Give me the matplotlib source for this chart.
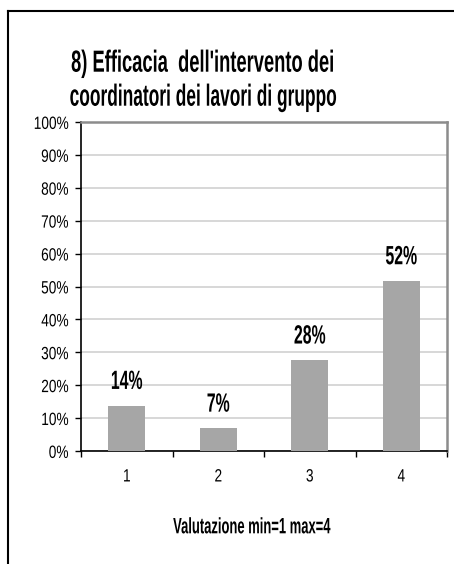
import numpy as np
import matplotlib
matplotlib.use("Agg")
import matplotlib.pyplot as plt
from matplotlib.lines import Line2D
from matplotlib.ticker import FixedLocator
from matplotlib.patheffects import AbstractPathEffect
from matplotlib.transforms import Affine2D

plt.rcParams['font.family'] = ['Liberation Sans', 'DejaVu Sans']

# data
categories = ['1', '2', '3', '4']
values = [13.8, 6.9, 27.6, 51.7]
value_labels = ['14%', '7%', '28%', '52%']
y_ticks = list(range(0, 101, 10))
title_lines = ["8) Efficacia  dell'intervento dei", "coordinatori dei lavori di gruppo"]
x_title = "Valutazione min=1 max=4"


class Stretch(AbstractPathEffect):
    """make the glyphs taller (the original uses a narrow, tall font)"""

    def __init__(self, sy, anchor='baseline'):
        super().__init__()
        self.sy = sy
        self.anchor = anchor

    def draw_path(self, renderer, gc, tpath, affine, rgbFace=None):
        if self.anchor == 'baseline':
            y0 = affine.transform([[0, 0]])[0][1]
        else:
            ext = tpath.get_extents(affine)
            y0 = (ext.y0 + ext.y1) / 2
        st = Affine2D().translate(0, -y0).scale(1, self.sy).translate(0, y0)
        renderer.draw_path(gc, tpath, affine + st, rgbFace)


W, H = 454, 564
fig = plt.figure(figsize=(W / 100, H / 100), dpi=100)
fig.patch.set_facecolor('white')

# outer frame (top and left only visible)
fig.add_artist(Line2D([8 / W, 1], [1 - 10.5 / H, 1 - 10.5 / H], color='black', lw=1.5))
fig.add_artist(Line2D([8 / W, 8 / W], [0, 1 - 10.5 / H], color='black', lw=1.5))

ax = fig.add_axes([81 / W, 1 - 451 / H, (447 - 81) / W, (451 - 122) / H])

x = np.arange(1, len(categories) + 1)
ax.bar(x, values, width=0.4, color='#a6a6a6', zorder=3)

ax.set_xlim(0.5, len(categories) + 0.5)
ax.set_ylim(0, 100)

tick_sx = 0.77
ax.set_yticks(y_ticks)
ax.set_yticklabels([f'{v}%' for v in y_ticks])
ax.yaxis.grid(True, color='#d4d4d4', lw=1.3, zorder=0)
ax.tick_params(axis='y', direction='out', length=4.3, width=1, pad=4.8,
               labelsize=12.8 * tick_sx)

# ticks between categories, labels at category centres
ax.set_xticks(np.arange(0.5, len(categories) + 1, 1.0))
ax.set_xticklabels([])
ax.xaxis.set_minor_locator(FixedLocator(x))
ax.set_xticklabels(categories, minor=True)
ax.tick_params(axis='x', which='major', direction='out', length=4, width=1)
ax.tick_params(axis='x', which='minor', length=0, pad=13, labelsize=12.8 * tick_sx)

for side in ['left', 'bottom']:
    ax.spines[side].set_color('black')
    ax.spines[side].set_linewidth(1.2)
for side in ['top', 'right']:
    ax.spines[side].set_color('#8c8c8c')
    ax.spines[side].set_linewidth(1.8)

for lab in ax.get_yticklabels():
    lab.set_path_effects([Stretch(1 / tick_sx, 'center')])
for lab in ax.get_xticklabels(minor=True):
    lab.set_path_effects([Stretch(1 / tick_sx, 'center')])

val_sx = 0.6
for xi, v, lab in zip(x, values, value_labels):
    t = ax.annotate(lab, (xi, v), xytext=(0, 12), textcoords='offset points',
                    ha='center', va='baseline', fontsize=19 * val_sx, fontweight='bold')
    t.set_path_effects([Stretch(1 / val_sx)])

t1 = fig.text(203 / W, 1 - 71.7 / H, title_lines[0], ha='center', va='baseline',
              fontsize=22, fontweight='bold')
t2 = fig.text(203.5 / W, 1 - 105.7 / H, title_lines[1], ha='center', va='baseline',
              fontsize=22, fontweight='bold')
tx = fig.text(251.5 / W, 1 - 533.3 / H, x_title, ha='center', va='baseline',
              fontsize=16, fontweight='bold')

# shrink the long texts to the widths they have in the reference, keep their height
renderer = fig.canvas.get_renderer()
for t, target in [(t1, 263), (t2, 267), (tx, 157)]:
    w = t.get_window_extent(renderer).width
    f = target / w
    t.set_fontsize(t.get_fontsize() * f)
    t.set_path_effects([Stretch(1 / f)])

fig.savefig('out.png', dpi=100)
